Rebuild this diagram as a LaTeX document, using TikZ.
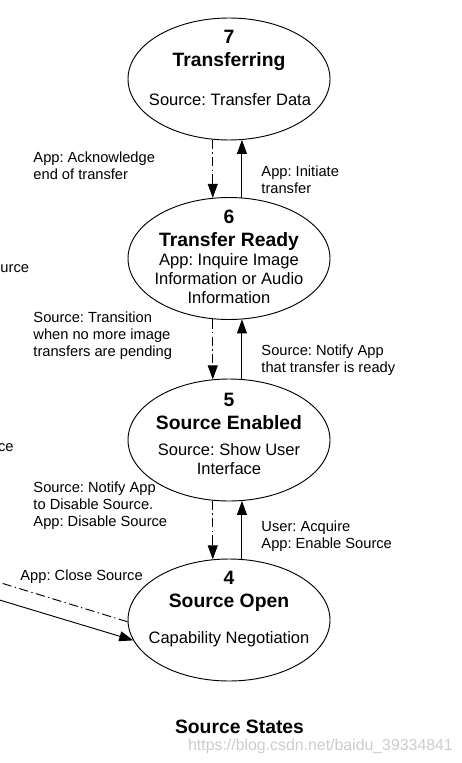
\documentclass[tikz,border=0pt]{standalone}
\usepackage{fontspec}
\setmainfont{Liberation Sans}
\usetikzlibrary{shapes.geometric,arrows.meta}
\frenchspacing
\begin{document}
\begin{tikzpicture}[x=0.75pt,y=-0.75pt,line width=0.7pt,
  state/.style={ellipse,draw,minimum width=151.5pt,minimum height=91.5pt,inner sep=0pt},
  title/.style={font=\fontsize{14.5}{17.25}\selectfont\bfseries,align=center,inner sep=0pt},
  body/.style={font=\fontsize{12.4}{14.25}\selectfont,align=center,inner sep=0pt},
  lbl/.style={font=\fontsize{11}{12.6}\selectfont,align=left,anchor=west,inner sep=0pt},
  dashdot/.style={dash pattern=on 7pt off 2.5pt on 1pt off 2.5pt},
  fwd/.style={-{Triangle[length=10.5pt,width=7.5pt]}},
  back/.style={dashdot,-{Triangle[length=10.5pt,width=7.5pt]}}]
\path[use as bounding box,clip] (0,0) rectangle (461,763);
% states
\node[state] (s7) at (229,79) {};
\node[state] (s6) at (229,258.5) {};
\node[state] (s5) at (229,440) {};
\node[state] (s4) at (229,620) {};
\node[title] (t7) at (229,50) {7\\Transferring};
\node[body] (b7) at (230,99.5) {Source: Transfer Data};
\node[title] (t6) at (229,230) {6\\Transfer Ready};
\node[body] (b6) at (229,278.5) {App: Inquire Image\\Information or Audio\\Information};
\node[title] (t5) at (229,411) {5\\Source Enabled};
\node[body] (b5) at (229,459) {Source: Show User\\Interface};
\node[title] (t4) at (229,591.5) {4\\Source Open};
\node[body] (b4) at (229,639.5) {Capability Negotiation};
% transitions
\draw[back] (s7.255) -- (s6.105);
\draw[fwd] (s6.78) -- (s7.282);
\draw[back] (s6.255) -- (s5.105);
\draw[fwd] (s5.78) -- (s6.282);
\draw[back] (s5.255) -- (s4.105);
\draw[fwd] (s4.78) -- (s5.282);
\coordinate (s3out) at (-30,573.4);
\coordinate (s3in) at (-30,591.1);
\draw[dashdot] (s4.181) -- (s3out);
\draw[fwd] (s3in) -- (s4.192);
% labels
\node[lbl] (l76) at (33,166) {App: Acknowledge\\end of transfer};
\node[lbl] (l67) at (261,179.5) {App: Initiate\\transfer};
\node[lbl] (l65) at (33,335.5) {Source: Transition\\when no more image\\transfers are pending};
\node[lbl] (l56) at (261,360) {Source: Notify App\\that transfer is ready};
\node[lbl] (l54) at (33,505.5) {Source: Notify App\\to Disable Source.\\App: Disable Source};
\node[lbl] (l45) at (261,536.5) {User: Acquire\\App: Enable Source};
\node[lbl] (l43) at (20,576.5) {App: Close Source};
\node[lbl] (cut1) at (0,269) {urce};
\node[lbl,anchor=east] (cut2) at (14,448) {ce};
\node[title] (cap) at (239.5,727) {Source States};
\node[font=\fontsize{11.9}{14}\selectfont,text=gray!40,inner sep=0pt] (wm) at (320.5,746) {https://blog.csdn.net/baidu\_39334841};
\end{tikzpicture}
\end{document}
